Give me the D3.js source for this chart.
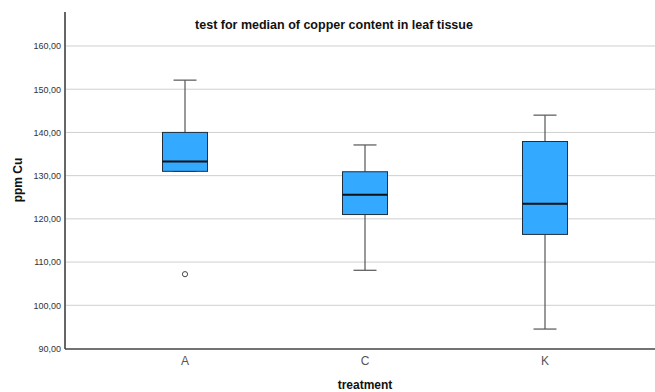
<!DOCTYPE html>
<html><head><meta charset="utf-8">
<script src="https://cdn.jsdelivr.net/npm/d3@7"></script>
<style>body{margin:0;background:#fff;}svg{display:block;}</style>
</head><body>
<script>
const categories = ["A", "C", "K"];
const whiskerHigh = [152.1, 137.1, 144.0];
const q3 = [140.0, 130.9, 137.9];
const median = [133.3, 125.6, 123.5];
const q1 = [131.0, 121.0, 116.4];
const whiskerLow = [131.0, 108.1, 94.5];
const outliers = [{cat: "A", value: 107.2}];
const yTicks = [90, 100, 110, 120, 130, 140, 150, 160];

const W = 655, H = 392;
const svg = d3.select("body").append("svg").attr("width", W).attr("height", H);
const y = d3.scaleLinear().domain([90, 160]).range([348.5, 46]);
const x = d3.scaleBand().domain(categories).range([95, 635]);
const xc = c => x(c) + x.bandwidth() / 2;
const fmt = v => d3.format(".2f")(v).replace(".", ",");

// gridlines
svg.append("g").selectAll("line").data(yTicks.filter(t => t > 90)).join("line")
  .attr("x1", 66).attr("x2", W).attr("y1", d => y(d)).attr("y2", d => y(d))
  .attr("stroke", "#cfcfcf").attr("stroke-width", 1);

// y axis
const yAxis = svg.append("g").attr("transform", "translate(65,0)")
  .call(d3.axisLeft(y).tickValues(yTicks).tickFormat(fmt).tickSize(0).tickPadding(4));
yAxis.select(".domain").remove();
yAxis.selectAll("text").attr("font-family", "Arial, 'Liberation Sans', sans-serif").attr("font-size", 9).attr("fill", "#333");
svg.append("line").attr("x1", 65).attr("x2", 65).attr("y1", 12).attr("y2", 349).attr("stroke", "#333").attr("stroke-width", 1.5);

// x axis
const xAxis = svg.append("g").attr("transform", "translate(0,349)")
  .call(d3.axisBottom(x).tickSize(0).tickPadding(7));
xAxis.select(".domain").remove();
xAxis.selectAll("text").attr("font-family", "Arial, 'Liberation Sans', sans-serif").attr("font-size", 12).attr("fill", "#555");
svg.append("line").attr("x1", 65).attr("x2", W).attr("y1", 349).attr("y2", 349).attr("stroke", "#444").attr("stroke-width", 1.5);

const boxW = 45, capW = 23;
const g = svg.append("g");
categories.forEach((c, i) => {
  const cx = xc(c);
  // whiskers
  g.append("line").attr("x1", cx).attr("x2", cx).attr("y1", y(whiskerHigh[i])).attr("y2", y(q3[i])).attr("stroke", "#555").attr("stroke-width", 1.2);
  g.append("line").attr("x1", cx).attr("x2", cx).attr("y1", y(q1[i])).attr("y2", y(whiskerLow[i])).attr("stroke", "#555").attr("stroke-width", 1.2);
  g.append("line").attr("x1", cx - capW/2).attr("x2", cx + capW/2).attr("y1", y(whiskerHigh[i])).attr("y2", y(whiskerHigh[i])).attr("stroke", "#555").attr("stroke-width", 1.2);
  g.append("line").attr("x1", cx - capW/2).attr("x2", cx + capW/2).attr("y1", y(whiskerLow[i])).attr("y2", y(whiskerLow[i])).attr("stroke", "#555").attr("stroke-width", 1.2);
  // box
  g.append("rect").attr("x", cx - boxW/2).attr("width", boxW).attr("y", y(q3[i])).attr("height", y(q1[i]) - y(q3[i]))
    .attr("fill", "#33aaff").attr("stroke", "#1f2f3f").attr("stroke-width", 1);
  g.append("line").attr("x1", cx - boxW/2).attr("x2", cx + boxW/2).attr("y1", y(median[i])).attr("y2", y(median[i])).attr("stroke", "#111").attr("stroke-width", 2);
});
g.selectAll("circle").data(outliers).join("circle")
  .attr("cx", d => xc(d.cat)).attr("cy", d => y(d.value)).attr("r", 2.6)
  .attr("fill", "#fff").attr("stroke", "#444").attr("stroke-width", 1);

// titles
svg.append("text").attr("x", 334).attr("y", 29).attr("text-anchor", "middle")
  .attr("font-family", "Arial, 'Liberation Sans', sans-serif").attr("font-size", 12.5).attr("font-weight", "bold").attr("fill", "#111")
  .text("test for median of copper content in leaf tissue");
svg.append("text").attr("x", 365).attr("y", 389).attr("text-anchor", "middle")
  .attr("font-family", "Arial, 'Liberation Sans', sans-serif").attr("font-size", 12).attr("font-weight", "bold").attr("fill", "#111")
  .text("treatment");
svg.append("text").attr("transform", "translate(22,180) rotate(-90)").attr("text-anchor", "middle")
  .attr("font-family", "Arial, 'Liberation Sans', sans-serif").attr("font-size", 12).attr("font-weight", "bold").attr("fill", "#111")
  .text("ppm Cu");
</script>
</body></html>
